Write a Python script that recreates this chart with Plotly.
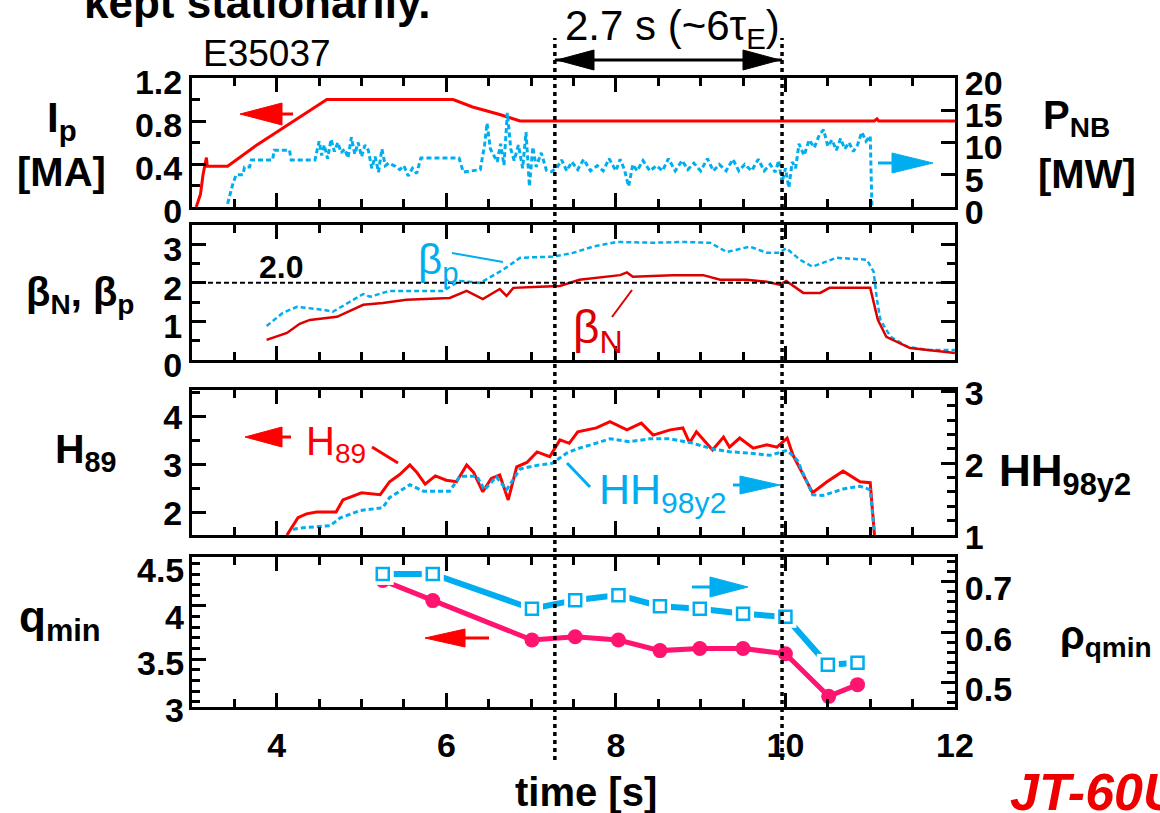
import plotly.graph_objects as go

# ---------------- data ----------------
ip_t = [3.05, 3.1, 3.13, 3.15, 3.17, 3.18, 3.42, 3.77, 4.16, 4.59, 6.08, 6.31, 6.63, 6.87, 11.05, 11.08, 11.1, 12.0]
ip_v = [0.0, 0.12, 0.3, 0.38, 0.46, 0.38, 0.38, 0.58, 0.78, 1.0, 1.0, 0.93, 0.86, 0.8, 0.8, 0.82, 0.8, 0.8]

pnb_t = [3.42, 3.45, 3.48, 3.52, 3.6, 3.62, 3.68, 3.70, 3.95, 3.97, 4.15, 4.17, 4.45, 4.50, 4.53, 4.56, 4.60, 4.64,
         4.68, 4.72, 4.76, 4.80, 4.84, 4.88, 4.92, 4.96, 5.00, 5.04, 5.08, 5.12, 5.16, 5.20, 5.24, 5.28, 5.32, 5.40,
         5.45, 5.50, 5.55, 5.60, 5.65, 5.70, 6.15, 6.20, 6.30, 6.40, 6.45, 6.48, 6.52, 6.56, 6.60, 6.64, 6.68, 6.72,
         6.76, 6.80, 6.85, 6.90, 6.94, 6.98, 7.02, 7.06, 7.12, 7.18, 7.24, 7.30, 7.36, 7.42, 7.48, 7.55, 7.62, 7.70,
         7.78, 7.85, 7.92, 8.00, 8.05, 8.10, 8.15, 8.20, 8.25, 8.32, 8.40, 8.48, 8.55, 8.62, 8.70, 8.78, 8.85, 8.92,
         9.00, 9.08, 9.15, 9.22, 9.30, 9.38, 9.45, 9.52, 9.60, 9.68, 9.75, 9.82, 9.88, 9.92, 9.96, 10.00, 10.04,
         10.08, 10.12, 10.16, 10.22, 10.28, 10.34, 10.40, 10.45, 10.50, 10.55, 10.60, 10.65, 10.70, 10.75, 10.80,
         10.85, 10.90, 10.95, 11.00, 11.02]
pnb_v = [0.5, 2.0, 3.5, 5.0, 5.0, 6.2, 6.2, 7.3, 7.3, 8.8, 8.8, 7.3, 7.3, 10.2, 8.0, 9.6, 7.5, 10.5,
         8.6, 10.0, 8.4, 9.0, 7.6, 10.8, 8.2, 10.0, 7.8, 9.6, 8.8, 6.0, 7.8, 5.4, 9.0, 6.4, 6.8, 6.3,
         5.8, 6.4, 4.8, 6.0, 5.2, 7.6, 7.6, 5.4, 5.6, 5.8, 9.5, 13.0, 9.0, 8.0, 7.0, 9.8, 6.5, 14.6,
         9.0, 7.2, 9.6, 6.0, 11.6, 3.2, 9.3, 6.2, 8.4, 5.7, 5.5, 6.0, 7.3, 5.6, 7.0, 5.8, 7.4, 5.6,
         6.4, 5.6, 7.5, 5.6, 7.4, 5.8, 3.2, 6.6, 5.6, 7.2, 5.6, 6.4, 5.6, 7.5, 5.6, 7.2, 5.8, 6.8,
         5.6, 7.5, 5.6, 6.6, 5.6, 7.4, 5.6, 6.6, 5.6, 7.4, 5.6, 6.6, 5.4, 7.2, 3.8, 6.0, 3.0,
         7.0, 6.0, 9.8, 8.0, 10.4, 9.2, 11.2, 12.0, 9.4, 10.4, 8.8, 10.6, 9.0, 10.0, 8.6,
         9.6, 11.6, 10.2, 11.0, 0.0]

bp_t = [3.88, 4.07, 4.24, 4.55, 4.66, 4.86, 5.02, 5.1, 5.33, 5.96, 6.16, 6.4, 6.67, 6.87, 7.26, 7.5, 7.73,
        8.01, 8.44, 8.79, 9.11, 9.31, 9.58, 9.78, 9.93, 10.01, 10.17, 10.32, 10.49, 10.6, 10.96, 11.04,
        11.08, 11.12, 11.24, 11.44, 11.67, 12.0]
bp_v = [0.88, 1.22, 1.38, 1.3, 1.25, 1.5, 1.71, 1.64, 1.79, 1.79, 2.05, 2.0, 2.34, 2.65, 2.68, 2.78, 2.94,
        3.06, 3.04, 3.06, 3.04, 2.8, 2.94, 2.78, 2.78, 2.9, 2.6, 2.42, 2.55, 2.65, 2.6, 2.29,
        1.56, 1.04, 0.6, 0.34, 0.26, 0.26]

bn_t = [3.88, 4.12, 4.27, 4.39, 4.71, 5.02, 5.25, 5.53, 6.04, 6.24, 6.43, 6.63, 6.71, 6.79, 7.1, 7.34, 7.57,
        7.77, 8.05, 8.13, 8.2, 8.67, 9.03, 9.23, 9.54, 9.78, 9.93, 10.01, 10.21, 10.41, 10.52, 11.0, 11.05,
        11.09, 11.19, 11.47, 12.0]
bn_v = [0.52, 0.7, 0.94, 1.04, 1.12, 1.43, 1.48, 1.56, 1.61, 1.79, 1.58, 1.84, 1.66, 1.87, 1.9, 1.92, 2.08,
        2.13, 2.2, 2.27, 2.16, 2.2, 2.2, 2.08, 2.08, 2.03, 1.95, 2.05, 1.74, 1.74, 1.87, 1.87, 1.38,
        1.04, 0.6, 0.31, 0.18]

h89_t = [4.12, 4.19, 4.25, 4.35, 4.47, 4.7, 4.78, 5.0, 5.22, 5.33, 5.45, 5.57, 5.65, 5.75, 5.87, 6.0, 6.12,
         6.24, 6.32, 6.43, 6.53, 6.63, 6.73, 6.83, 6.95, 7.07, 7.22, 7.34, 7.45, 7.55, 7.77, 7.93, 8.13, 8.3,
         8.44, 8.64, 8.79, 8.87, 8.95, 9.14, 9.27, 9.34, 9.46, 9.62, 9.78, 9.9, 10.02, 10.09, 10.32, 10.49,
         10.68, 10.88, 11.0, 11.05]
h89_v = [1.54, 1.75, 1.9, 1.98, 2.02, 2.02, 2.27, 2.42, 2.38, 2.65, 2.8, 3.0, 2.85, 2.6, 2.77, 2.68, 2.65,
         3.0, 2.85, 2.44, 2.72, 2.79, 2.27, 2.96, 3.05, 3.27, 3.17, 3.52, 3.45, 3.69, 3.77, 3.9, 3.73, 3.87,
         3.62, 3.73, 3.77, 3.46, 3.69, 3.31, 3.58, 3.37, 3.56, 3.35, 3.42, 3.37, 3.56, 3.2, 2.42, 2.65,
         2.87, 2.65, 2.63, 1.54]

hh_t = [4.19, 4.31, 4.63, 4.75, 4.98, 5.25, 5.33, 5.57, 5.73, 6.04, 6.16, 6.36, 6.45, 6.59, 6.71, 6.87, 7.07,
        7.25, 7.42, 7.54, 7.77, 7.93, 8.16, 8.4, 8.64, 8.9, 9.14, 9.34, 9.58, 9.82, 10.02, 10.14, 10.32,
        10.44, 10.68, 10.88, 11.0, 11.05]
hh_v = [1.08, 1.1, 1.13, 1.24, 1.34, 1.38, 1.52, 1.7, 1.61, 1.61, 1.82, 1.82, 1.63, 1.81, 1.63, 1.92, 1.97,
        2.0, 2.14, 2.2, 2.28, 2.34, 2.3, 2.34, 2.34, 2.28, 2.2, 2.16, 2.14, 2.11, 2.18, 2.04, 1.56,
        1.55, 1.64, 1.68, 1.63, 1.03]

prof_t = [5.25, 5.84, 7.01, 7.52, 8.03, 8.52, 8.99, 9.5, 10.0, 10.51, 10.85]
qmin = [4.24, 4.05, 3.68, 3.71, 3.68, 3.58, 3.6, 3.6, 3.55, 3.15, 3.26]
rho_t = [5.25, 5.84, 7.01, 7.52, 8.03, 8.52, 8.99, 9.5, 10.0, 10.5, 10.85]
rho_qmin = [0.715, 0.715, 0.646, 0.663, 0.673, 0.651, 0.646, 0.636, 0.630, 0.535, 0.539]

window_t = [7.28, 9.96]
beta_ref = 2.0
x_ticks = [4, 6, 8, 10, 12]
q_ticklabels = ["4.5", "4", "3.5", "3"]

# ---------------- style ----------------
W, H = 1160, 813
RED = "#FF0000"
DRED = "#DD0000"
BLUE = "#00AEEF"
PINK = "#FF1470"
FONT = "Liberation Sans"


def px(x):
    return x / W


def py(y):
    return 1 - y / H


fig = go.Figure()
fig.add_trace(go.Scatter(x=ip_t, y=ip_v, mode="lines", line=dict(color=RED, width=3), xaxis="x", yaxis="y"))
fig.add_trace(go.Scatter(x=pnb_t, y=pnb_v, mode="lines", line=dict(color=BLUE, width=3, dash="5px,3px"),
                         xaxis="x", yaxis="y5"))
fig.add_trace(go.Scatter(x=bp_t, y=bp_v, mode="lines", line=dict(color=BLUE, width=2.5, dash="5px,3px"),
                         xaxis="x2", yaxis="y2"))
fig.add_trace(go.Scatter(x=bn_t, y=bn_v, mode="lines", line=dict(color=DRED, width=2.5),
                         xaxis="x2", yaxis="y2"))
fig.add_trace(go.Scatter(x=hh_t, y=hh_v, mode="lines", line=dict(color=BLUE, width=3, dash="5px,3px"),
                         xaxis="x3", yaxis="y6"))
fig.add_trace(go.Scatter(x=h89_t, y=h89_v, mode="lines", line=dict(color=RED, width=3),
                         xaxis="x3", yaxis="y3"))
fig.add_trace(go.Scatter(x=prof_t, y=qmin, mode="lines+markers", line=dict(color=PINK, width=5),
                         marker=dict(symbol="circle", size=15, color=PINK), xaxis="x4", yaxis="y4"))
fig.add_trace(go.Scatter(x=rho_t, y=rho_qmin, mode="lines", line=dict(color=BLUE, width=6),
                         xaxis="x4", yaxis="y7"))
fig.add_trace(go.Scatter(x=rho_t, y=rho_qmin, mode="markers",
                         marker=dict(symbol="square", size=22, color="white", line=dict(width=0)),
                         xaxis="x4", yaxis="y7"))
fig.add_trace(go.Scatter(x=rho_t, y=rho_qmin, mode="markers",
                         marker=dict(symbol="square", size=12, color="white", line=dict(color=BLUE, width=2.5)),
                         xaxis="x4", yaxis="y7"))

tickfont = dict(family=FONT, size=34, color="black", weight="bold")
XDOM = [px(192), px(955)]


def xax(anchor, labels=False):
    d = dict(domain=XDOM, range=[3, 12], anchor=anchor, showline=True, linewidth=3, linecolor="black",
             mirror="ticks", ticks="inside", ticklen=14, tickwidth=3, tickcolor="black",
             tickvals=x_ticks, showgrid=False, zeroline=False, showticklabels=labels,
             tickfont=tickfont, ticklabelstandoff=6, automargin=False,
             minor=dict(dtick=0.5, tick0=0, ticks="inside", ticklen=8, tickwidth=2.5, tickcolor="black",
                        showgrid=False))
    return d


def yax(dom, rng, tv, minor_dt, side="left", overlay=None, anchor=None, mirror=False, labels=True, shift=0):
    d = dict(domain=dom, range=rng, side=side, showline=True, linewidth=3, linecolor="black",
             ticks="inside", ticklen=14, tickwidth=3, tickcolor="black", tickvals=tv,
             showgrid=False, zeroline=False, tickfont=tickfont, mirror=mirror, showticklabels=labels,
             automargin=False, ticklabelshift=shift,
             minor=dict(dtick=minor_dt, tick0=0, ticks="inside", ticklen=8, tickwidth=2.5,
                        tickcolor="black", showgrid=False))
    if overlay:
        d["overlaying"] = overlay
        d.pop("domain")
    if anchor:
        d["anchor"] = anchor
    return d


fig.update_layout(
    width=W, height=H, margin=dict(l=0, r=0, t=0, b=0, pad=0, autoexpand=False), autosize=False,
    paper_bgcolor="white", plot_bgcolor="rgba(0,0,0,0)", showlegend=False,
    font=dict(family=FONT, color="black"),
    xaxis=xax("y"),
    xaxis2=xax("y2"),
    xaxis3=xax("y3"),
    xaxis4=xax("y4", labels=True),
    yaxis=yax([py(207), py(78)], [0, 1.2], [0, 0.4, 0.8, 1.2], 0.2, anchor="x", shift=4),
    yaxis5=yax(None, [0, 20], [0, 5, 10, 15, 20], 5, side="right", overlay="y", anchor="x", shift=5),
    yaxis2=yax([py(360), py(225)], [0, 3.5], [0, 1, 2, 3], 0.5, anchor="x2", mirror="ticks", shift=5),
    yaxis3=yax([py(535), py(390)], [1.54, 4.56], [2, 3, 4], 0.5, anchor="x3"),
    yaxis6=yax(None, [1.0, 3.02], [1, 2, 3], 0.2, side="right", overlay="y3", anchor="x3", shift=2),
    yaxis4=yax([py(707), py(557)], [3.05, 4.46], [3.5, 4.0], 0.1, anchor="x4", labels=False),
    yaxis7=yax(None, [0.4515, 0.7485], [0.5, 0.6, 0.7], 0.02, side="right", overlay="y4", anchor="x4",
               shift=7),
)

ann = []


def text(x, y, s, size=34, color="black", bold=True, italic=False, xanchor="center", yanchor="middle"):
    f = dict(family=FONT, size=size, color=color, weight="bold" if bold else "normal",
             style="italic" if italic else "normal")
    ann.append(dict(x=px(x), y=py(y), xref="paper", yref="paper", text=s, showarrow=False, font=f,
                    xanchor=xanchor, yanchor=yanchor))


# headline (cut off at top)
text(257, 29, "kept stationarily.", size=44, yanchor="bottom")
text(267, 54, "E35037", size=37, bold=False)
text(672, 29, "2.7 s (~6τ<sub>E</sub>)", size=42, bold=False)

# axis titles
text(62, 121, "I<sub>p</sub>", size=42)
text(61, 172, "[MA]", size=40)
text(80, 295, "β<sub>N</sub>, β<sub>p</sub>", size=40)
text(86, 452, "H<sub>89</sub>", size=41)
text(60, 620, "q<sub>min</sub>", size=44)
text(1076, 118, "P<sub>NB</sub>", size=40)
text(1087, 174, "[MW]", size=40)
text(1065, 474, "HH<sub>98y2</sub>", size=44)
text(1106, 638, "ρ<sub>qmin</sub>", size=40)

# q_min tick labels
for lbl, yy in zip(q_ticklabels, [570, 617, 663, 710]):
    text(186, yy, lbl, size=34, xanchor="right")

# x title and logo
text(586, 792, "time [s]", size=40)
text(1008, 792, "JT-60U", size=52, color="#EE0000", italic=True, xanchor="left")

# in-panel labels
text(281, 267, "2.0", size=32)
text(438, 262, "β<sub>p</sub>", size=42, color=BLUE, bold=False)
text(598, 330, "β<sub>N</sub>", size=46, color=DRED, bold=False)
text(336, 444, "H<sub>89</sub>", size=40, color=RED, bold=False)
text(662, 492, "HH<sub>98y2</sub>", size=43, color=BLUE, bold=False)

fig.update_layout(annotations=ann)

shapes = []
for t in window_t:
    shapes.append(dict(type="line", xref="x4", yref="paper", x0=t, x1=t, y0=py(760), y1=py(38),
                       line=dict(color="black", width=3.5, dash="4px,4px")))
shapes.append(dict(type="line", xref="x2 domain", yref="y2", x0=0, x1=1, y0=beta_ref, y1=beta_ref,
                   line=dict(color="black", width=2, dash="5px,3px")))
# double arrow between the window lines
shapes.append(dict(type="line", xref="x4", yref="paper", x0=window_t[0], x1=window_t[1], y0=py(60), y1=py(60),
                   line=dict(color="black", width=3)))


def tri(tipx, tipy, basex, half, color):
    return dict(type="path", xref="paper", yref="paper",
                path=f"M {px(tipx)} {py(tipy)} L {px(basex)} {py(tipy - half)} L {px(basex)} {py(tipy + half)} Z",
                fillcolor=color, line=dict(color=color, width=1))


def seg(x0, y0, x1, y1, color, w):
    return dict(type="line", xref="paper", yref="paper", x0=px(x0), y0=py(y0), x1=px(x1), y1=py(y1),
                line=dict(color=color, width=w))


shapes += [tri(557, 60, 594, 10, "black"), tri(780, 60, 743, 10, "black")]
# panel arrows
shapes += [tri(240, 114, 282, 11, RED), seg(282, 114, 293, 114, RED, 3)]
shapes += [tri(933, 163, 892, 10, BLUE), seg(878, 163, 892, 163, BLUE, 3)]
shapes += [tri(245, 437, 282, 10, RED), seg(282, 437, 291, 437, RED, 3)]
shapes += [tri(780, 485, 740, 9, BLUE), seg(733, 485, 740, 485, BLUE, 3)]
shapes += [tri(748, 587, 710, 10, BLUE), seg(692, 587, 710, 587, BLUE, 3)]
shapes += [tri(425, 638, 465, 9, RED), seg(465, 638, 489, 638, RED, 3)]
# leader lines
shapes += [seg(452, 253, 503, 262, BLUE, 2), seg(612, 317, 632, 290, DRED, 2),
           seg(372, 447, 398, 463, RED, 3), seg(567, 463, 590, 487, BLUE, 3)]
fig.update_layout(shapes=shapes)

fig.write_html("out.html")
